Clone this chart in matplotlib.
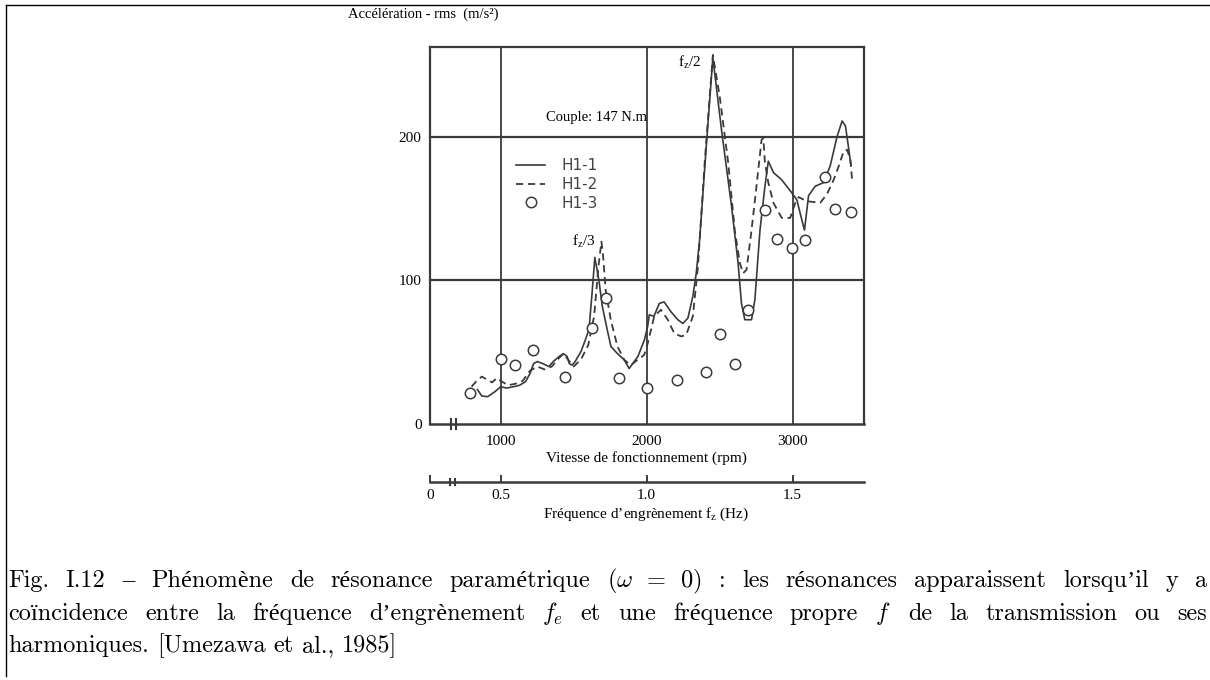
import matplotlib
matplotlib.use('Agg')
import matplotlib.pyplot as plt
from matplotlib.lines import Line2D
import matplotlib.transforms as mtransforms

W, H = 1210, 680

plt.rcParams['font.family'] = ['Liberation Serif', 'DejaVu Serif']
plt.rcParams['mathtext.fontset'] = 'custom'
plt.rcParams['mathtext.rm'] = 'Liberation Serif'
plt.rcParams['mathtext.it'] = 'Liberation Serif:italic'

# --- data (rpm, m/s^2) ---
h11_rpm = [840, 870, 910, 960, 1000, 1040, 1090, 1130, 1170, 1200, 1225, 1250,
           1290, 1330, 1360, 1400, 1430, 1455, 1470, 1490, 1510, 1550, 1580,
           1605, 1625, 1645, 1673, 1696, 1730, 1755, 1800, 1846, 1880, 1940,
           1985, 2007, 2018, 2050, 2087, 2120, 2168, 2214, 2248, 2283, 2317,
           2340, 2363, 2410, 2454, 2513, 2582, 2627, 2650, 2673, 2719, 2742,
           2777, 2811, 2834, 2870, 2926, 2995, 3030, 3064, 3082, 3110, 3156,
           3212, 3258, 3305, 3340, 3363, 3386, 3400]
h11_acc = [24, 19.5, 19, 22.5, 26, 25, 26, 27, 29.5, 35, 42, 43.5,
           42, 40, 43.5, 47, 49, 47, 42, 41, 43.5, 50.5, 58.6,
           66, 90, 116, 100, 82, 65.6, 54, 49, 44.7, 38.6, 47,
           58.6, 68, 76, 75, 84, 85, 78, 72.6, 70, 73.7, 89,
           105, 128, 195, 255, 205, 151.6, 112, 84, 72.6, 72.6, 86.5,
           135, 165.6, 183, 175, 170, 161, 156, 142, 135, 159, 165.6,
           168, 179.6, 200, 211, 207.5, 191, 180]

h12_rpm = [800, 835, 870, 905, 940, 975, 1000, 1050, 1100, 1150, 1200, 1250,
           1300, 1350, 1400, 1430, 1460, 1500, 1550, 1600, 1640, 1670, 1690,
           1700, 1719, 1754, 1800, 1846, 1892, 1938, 1983, 2007, 2030, 2052,
           2098, 2145, 2190, 2237, 2271, 2317, 2352, 2400, 2454, 2501, 2559,
           2604, 2639, 2662, 2685, 2719, 2753, 2788, 2800, 2811, 2834, 2869,
           2926, 2984, 3019, 3042, 3080, 3110, 3190, 3236, 3282, 3317, 3351,
           3374, 3397, 3409]
h12_acc = [26, 30, 33, 31, 29, 32, 30, 27, 28, 30, 37, 40,
           38, 40, 46, 49, 45, 40, 45, 55, 75, 110, 127,
           119, 93.5, 72.6, 54, 44.7, 41, 44.7, 48, 56, 65.6, 75,
           79.5, 72.6, 63, 61, 62, 75, 110, 185, 257, 228, 182,
           135, 112, 105, 107.5, 135, 165.6, 198, 199, 182, 168, 154,
           143.5, 143.5, 154, 158, 156, 155, 154, 160, 170, 179.6, 190,
           191, 184, 169]

h13_rpm = [790, 1000, 1099, 1220, 1440, 1627, 1719, 1808, 2000, 2207, 2409,
           2501, 2604, 2695, 2811, 2895, 2995, 3085, 3225, 3290, 3404]
h13_acc = [21.4, 45, 41, 51.6, 33, 67, 87.7, 32.3, 24.9, 30.7, 36.5,
           62.5, 41.7, 79.5, 149, 129, 122.6, 128, 172, 150, 147.5]

rpm_ticks = [1000, 2000, 3000]
acc_ticks = [0, 100, 200]
hz_ticks = [0.5, 1.0, 1.5]
hz_labels = ['0.5', '1.0', '1.5']

caption_1 = ['Fig.', 'I.12', '\u2013', 'Phénomène', 'de', 'résonance', 'paramétrique',
             r'$(\omega\enspace=\enspace0)$', ':', 'les', 'résonances', 'apparaissent',
             'lorsqu\u2019il', 'y', 'a']
caption_2 = ['coïncidence', 'entre', 'la', 'fréquence', 'd\u2019engrènement', r'$f_e$',
             'et', 'une', 'fréquence', 'propre', r'$f$', 'de', 'la', 'transmission',
             'ou', 'ses']
caption_3 = ['harmoniques.', '[Umezawa', 'et', 'al.,', '1985]']

INK = '#3a3a3a'
XMIN, XMAX = 515, 3490
YMIN, YMAX = 0, 262.5


def fx(px):
    return px / W


def fy(py):
    return 1 - py / H


fig = plt.figure(figsize=(W / 100, H / 100), dpi=100)

# page frame
fig.add_artist(Line2D([fx(6), fx(6)], [fy(5), fy(676)], color='black', lw=1.0))
fig.add_artist(Line2D([fx(6), 1.0], [fy(5), fy(5)], color='black', lw=1.0))

# main axes
ax = fig.add_axes([fx(430), fy(424), fx(864) - fx(430), fy(47) - fy(424)])
ax.set_xlim(XMIN, XMAX)
ax.set_ylim(YMIN, YMAX)
for s in ['left', 'top', 'right']:
    ax.spines[s].set_color(INK)
    ax.spines[s].set_linewidth(1.6)
ax.spines['bottom'].set_visible(False)

for v in rpm_ticks:
    ax.axvline(v, color=INK, lw=1.3, zorder=1)
for v in acc_ticks[1:]:
    ax.axhline(v, color=INK, lw=1.6, zorder=1)

# broken bottom axis
trans = mtransforms.blended_transform_factory(ax.transData, ax.transAxes)
ax.plot([XMIN, XMAX], [0, 0], color=INK, lw=1.8, transform=trans, clip_on=False)
for xb in [660, 690]:
    ax.plot([xb, xb], [-0.012, 0.012], color=INK, lw=1.5, transform=trans, clip_on=False)

ax.plot(h11_rpm, h11_acc, color=INK, lw=1.2, label='H1-1', zorder=3)
ax.plot(h12_rpm, h12_acc, color=INK, lw=1.3, ls=(0, (4, 2.6)), label='H1-2', zorder=3)
ax.plot(h13_rpm, h13_acc, ls='none', marker='o', ms=7.5, mfc='white', mec=INK,
        mew=1.1, label='H1-3', zorder=4)

ax.set_xticks(rpm_ticks)
ax.set_xticklabels([str(v) for v in rpm_ticks])
ax.set_yticks(acc_ticks)
ax.set_yticklabels([str(v) for v in acc_ticks])
ax.tick_params(length=0, labelsize=11, pad=6)
ax.tick_params(axis='x', pad=8)

leg = ax.legend(loc='upper left', bbox_to_anchor=(fx(510), fy(152)),
                bbox_transform=fig.transFigure, frameon=False, handlelength=1.9,
                handletextpad=1.1, labelspacing=0.25, borderaxespad=0,
                prop={'family': 'DejaVu Sans', 'size': 11})
for t in leg.get_texts():
    t.set_color('#444444')

# annotations
fig.text(fx(348), fy(14), 'Accélération - rms  (m/s²)', fontsize=10.5, va='center')
fig.text(fx(546), fy(117), 'Couple: 147 N.m', fontsize=10.5, va='center')
fig.text(fx(678), fy(62), r'f$_{\rm z}$/2', fontsize=11, va='center')
fig.text(fx(572), fy(241), r'f$_{\rm z}$/3', fontsize=11, va='center')
fig.text(fx(646), fy(458), 'Vitesse de fonctionnement (rpm)', fontsize=11,
         ha='center', va='center')

# frequency axis
ax2 = fig.add_axes([fx(430), fy(482), fx(864) - fx(430), 0.0001])
ax2.set_xlim(XMIN / 2000, XMAX / 2000)
ax2.set_ylim(0, 1)
for s in ['left', 'top', 'right']:
    ax2.spines[s].set_visible(False)
ax2.spines['bottom'].set_color(INK)
ax2.spines['bottom'].set_linewidth(1.8)
ax2.set_yticks([])
ax2.set_xticks([XMIN / 2000] + hz_ticks)
ax2.set_xticklabels(['0'] + hz_labels)
ax2.tick_params(axis='x', direction='in', length=5, width=1.4, color=INK,
                labelsize=11, pad=5)
trans2 = mtransforms.blended_transform_factory(ax2.transData, ax2.transAxes)
for xb in [655 / 2000, 685 / 2000]:
    ax2.plot([xb, xb], [-40, 40], color=INK, lw=1.5, transform=trans2, clip_on=False)
fig.text(fx(646), fy(514), r'Fréquence d’engrènement f$_{\rm z}$ (Hz)', fontsize=11,
         ha='center', va='center')

# caption with justified lines
renderer = fig.canvas.get_renderer()
cap_font = ['cmr10', 'Liberation Serif']


def caption_line(words, base_py, justify):
    texts = []
    for w in words:
        t = fig.text(0, fy(base_py), w, fontsize=17.5, family=cap_font,
                     va='baseline', math_fontfamily='cm')
        texts.append(t)
    widths = [t.get_window_extent(renderer).width for t in texts]
    x0, x1 = 8, 1207
    if justify:
        gap = (x1 - x0 - sum(widths)) / (len(words) - 1)
    else:
        gap = 8
    x = x0
    for t, w in zip(texts, widths):
        t.set_x(fx(x))
        x += w + gap


caption_line(caption_1, 587, True)
caption_line(caption_2, 620, True)
caption_line(caption_3, 652, False)

fig.savefig('out.png', dpi=100)
